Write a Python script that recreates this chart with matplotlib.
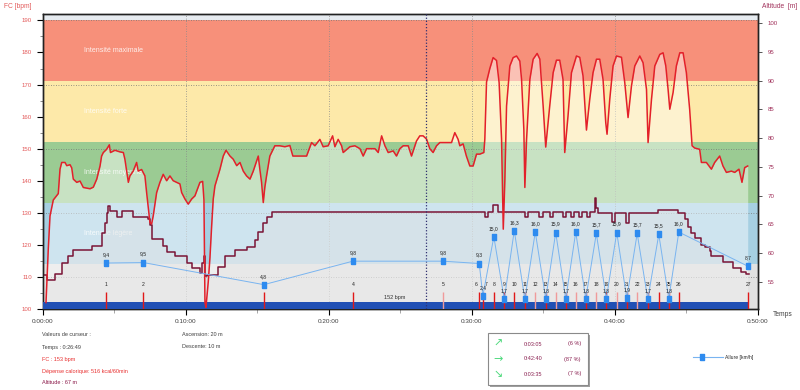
import matplotlib.pyplot as plt
from matplotlib.lines import Line2D
from matplotlib.patches import Rectangle
from matplotlib.ticker import MultipleLocator, FuncFormatter

plt.rcParams['font.family'] = ['Liberation Sans', 'DejaVu Sans']

# heart rate trace: time [min], FC [bpm]
hr_t = [0.21, 0.37, 0.49, 0.72, 1.07, 1.19, 1.31, 1.54, 1.66, 1.89, 2.01, 2.12, 2.36, 2.59, 2.82,
        3.29, 3.52, 3.76, 3.99, 4.10, 4.22, 4.45, 4.64, 4.72, 5.03, 5.38, 5.62, 5.73, 5.97, 6.08,
        6.31, 6.55, 6.66, 6.90, 7.13, 7.25, 7.48, 7.60, 7.71, 7.95, 8.18, 8.41, 8.65, 8.88, 9.11,
        9.35, 9.58, 9.70, 9.93, 10.16, 10.40, 10.63, 10.98, 11.17, 11.26, 11.33, 11.40, 11.56, 11.68,
        11.80, 11.91, 12.03, 12.38, 12.61, 12.80, 13.08, 13.31, 13.55, 13.78, 14.01, 14.24, 14.48,
        14.71, 15.06, 15.17, 15.29, 15.41, 15.52, 15.64, 15.87, 16.22, 16.57, 16.92, 17.27, 17.48,
        17.97, 18.44, 18.79, 19.02, 19.37, 19.60, 19.95, 20.26, 20.42, 20.65, 20.89, 21.00, 21.47,
        21.82, 22.17, 22.40, 22.64, 23.22, 23.45, 23.69, 23.92, 24.15, 24.50, 24.73, 24.97, 25.20,
        25.55, 25.78, 26.13, 26.36, 26.59, 26.83, 27.06, 27.29, 27.53, 27.76, 28.23, 28.58, 28.81,
        29.04, 29.16, 29.39, 29.62, 29.86, 30.09, 30.33, 30.56, 30.84, 30.91, 31.03, 31.26, 31.49,
        31.73, 31.91, 32.08, 32.20, 32.31, 32.43, 32.66, 32.89, 33.13, 33.36, 33.48, 33.64, 33.71,
        33.83, 34.06, 34.29, 34.57, 34.76, 34.99, 35.17, 35.45, 35.69, 35.92, 36.15, 36.38, 36.50,
        36.73, 36.97, 37.32, 37.55, 37.78, 38.02, 38.25, 38.48, 38.72, 38.95, 39.18, 39.37, 39.46,
        39.65, 39.88, 40.12, 40.47, 40.70, 40.93, 41.17, 41.40, 41.75, 41.98, 42.22, 42.33, 42.57,
        42.80, 43.15, 43.38, 43.57, 43.73, 43.85, 44.08, 44.31, 44.55, 44.78, 45.01, 45.24, 45.41,
        45.59, 45.94, 46.06, 46.41, 46.76, 46.99, 47.34, 47.57, 47.81, 48.16, 48.39, 48.69, 48.90,
        49.09, 49.30]
hr_bpm = [102, 118.7, 129, 134, 136, 143.6, 145.7, 145.7, 144.7, 145, 144, 140.5, 139.5, 139.9, 137.9,
          137.5, 138, 140.5, 144.6, 147.7, 148.8, 149.8, 151.2, 148.8, 149.5, 149, 148.8, 146.7, 139.5, 141.5,
          143, 145.7, 143, 143.5, 141.5, 136.3, 127, 126.5, 129, 136.3, 139.5, 142, 140, 141.5, 140,
          139.5, 139, 136.3, 134.3, 132.7, 134.3, 135.3, 139.5, 139.8, 134, 102, 100.5, 108.4, 116,
          126, 134.3, 138.4, 143.6, 147.7, 149.5, 147.7, 146.7, 144.7, 145.7, 143, 141.5, 140.5,
          143, 147.7, 143.6, 139.5, 133.2, 138, 141.5, 147.7, 150.9, 150.9, 150.6, 151, 147.7,
          147.7, 147.7, 151.9, 150.9, 152.9, 150.6, 150.9, 154, 150.6, 152.9, 150.9, 148.8, 150.6,
          150.9, 150, 147.7, 150, 150, 148.8, 154, 150.9, 148.8, 149.3, 147.7, 150, 150.9,
          150.9, 147.7, 152.4, 154, 154, 153, 150, 148.8, 150.9, 151.9, 151.9, 151.9, 155,
          152.9, 150.9, 151.5, 147.7, 144.6, 144.6, 148.3, 148.3, 148.8, 153, 170.8, 175, 178.4,
          177.5, 170.6, 153, 124.9, 140, 163.3, 175.8, 178.4, 178.9, 177.3, 171.6, 156, 137.9,
          152.9, 171.6, 177.9, 179.7, 177.9, 163.3, 150.5, 163.3, 173.7, 177.6, 177.6, 171.6, 148.8,
          160.2, 173.7, 178.9, 178.5, 172.7, 155.8, 165.4, 173.7, 177.9, 177.9, 171.6, 158.1, 154.5,
          165.4, 175.8, 178.9, 178.5, 170.6, 159.7, 169.6, 175.8, 178.9, 176.8, 168.5, 151.9, 165.4,
          175.8, 179.4, 179.9, 175.8, 168.5, 162.3, 167.5, 175.8, 179.9, 179.9, 173.7, 162.3, 150.9,
          150.2, 149.8, 145.7, 145.7, 143.6, 145.7, 147.7, 144.6, 142.6, 143, 142.6, 143.6, 139.5,
          144.1, 144.6]

# altitude (step changes): time [min], altitude [m]
alt_t = [0.0, 0.26, 0.84, 1.31, 1.77, 2.12, 3.41, 4.10, 4.34, 4.45, 4.57, 4.69, 5.15, 5.50, 6.27,
         7.36, 7.48, 7.60, 8.41, 8.65, 9.23, 10.05, 10.40, 10.98, 11.14, 11.26, 11.36, 11.45, 12.26,
         12.73, 13.43, 14.24, 14.83, 15.06, 15.41, 15.64, 15.99, 30.91, 31.12, 31.47, 31.82, 33.71,
         33.92, 34.70, 35.00, 35.50, 35.70, 36.35, 36.60, 36.95, 37.15, 37.50, 37.70, 38.05, 38.25,
         38.62, 38.72, 38.85, 39.80, 40.00, 40.80, 41.00, 43.00, 44.40, 44.90, 45.13, 45.36, 45.59,
         46.06, 46.29, 46.64, 46.76, 47.57, 48.27, 48.86, 49.21, 49.37]
alt_m = [56.2, 55.3, 56.3, 58.2, 59.4, 60.5, 61.3, 63.4, 65.2, 66.9, 68.2, 67.3, 66.3, 67.3, 66.3,
         66.0, 64.9, 62.4, 61.2, 60.2, 59.4, 58.2, 57.3, 56.5, 58.2, 59.4, 56.0, 56.2, 57.6,
         59.4, 60.5, 61.1, 62.3, 63.7, 65.2, 66.3, 67.2, 66.3, 67.2, 68.4, 67.2, 66.3,
         67.2, 66.3, 67.2, 66.3, 67.2, 66.3, 67.2, 66.3, 67.2, 66.3, 67.2, 66.3, 67.2,
         69.5, 67.9, 67.0, 65.4, 67.0, 65.2, 67.0, 67.4, 67.0, 66.0, 64.6, 63.4, 62.6,
         61.4, 61.1, 60.4, 59.5, 58.5, 57.3, 56.7, 56.3, 56.3]

# laps
lap_num = list(range(1, 28))
lap_t = [4.41, 7.03, 15.45, 21.68, 27.97, 30.52, 30.77, 31.54, 32.27, 32.97, 33.71, 34.44, 35.17,
         35.87, 36.57, 37.27, 37.97, 38.71, 39.41, 40.14, 40.84, 41.57, 42.31, 43.08, 43.78, 44.48, 49.33]
lap_speed = [9.4, 9.5, 4.8, 9.8, 9.8, 9.3, 2.4, 15.0, 1.7, 16.3, 1.7, 16.0, 1.8, 15.9, 1.7, 16.0,
             1.8, 15.7, 1.8, 15.9, 1.9, 15.7, 1.7, 15.5, 1.8, 16.0, 8.7]
lap_pink = [5, 12, 14, 16, 18, 20, 22]

# heart-rate zones
zone_lo = [100, 114, 133, 152, 171]
zone_hi = [114, 133, 152, 171, 190]
zone_names = ['', 'Intensité légère', 'Intensité moyenne', 'Intensité forte', 'Intensité maximale']
zone_colors = ['#e1e1e1', '#a6cfe2', '#9bcb93', '#fde9a9', '#f7907a']

cursor_t = 26.82
end_t = hr_t[-1]

W, H = 800, 390
fig = plt.figure(figsize=(W / 100, H / 100), dpi=100)
ax = fig.add_axes([43 / W, 1 - 309 / H, (757.7 - 43) / W, (309 - 14) / H])

# zones
for lo, hi, c, name in zip(zone_lo, zone_hi, zone_colors, zone_names):
    ax.axhspan(lo, hi, color=c, lw=0, zorder=0)
    if name:
        ax.text(2.9, (lo + hi) / 2, name, color='white', fontsize=5, va='center', ha='left',
                alpha=0.85, zorder=1)
ax.axhspan(190, 192, color='#e6ebf0', lw=0, zorder=0)

for t in [10, 20, 30, 40]:
    ax.axvline(t, color='#8a8a8a', ls=(0, (1, 2)), lw=0.6, zorder=1)
for v in [110, 130, 150, 170, 190]:
    ax.axhline(v, color='#777777', ls=(0, (1, 2)), lw=0.6, zorder=1)

ax.fill_between(hr_t, hr_bpm, 100, color='white', alpha=0.45, lw=0, zorder=2)

ax.set_xlim(0, 50)
ax.set_ylim(100, 192)
ax.xaxis.set_major_locator(MultipleLocator(10))
ax.xaxis.set_minor_locator(MultipleLocator(5))
ax.xaxis.set_major_formatter(FuncFormatter(lambda m, p: f"0:{int(m):02d}:00"))
ax.yaxis.set_major_locator(MultipleLocator(10))
ax.yaxis.set_minor_locator(MultipleLocator(5))
ax.tick_params(axis='x', which='major', length=4, width=0.8, pad=3, labelsize=4.6, labelcolor='#404040')
ax.tick_params(axis='x', which='minor', length=3, width=0.6, color='#999999')
ax.tick_params(axis='y', which='major', length=4, width=0.8, pad=4, labelsize=4.4, labelcolor='#e35a5a')
ax.tick_params(axis='y', which='minor', length=2.5, width=0.6, color='#777777')
for s in ax.spines.values():
    s.set_linewidth(1.0)
    s.set_color('#222222')

# altitude
ax2 = ax.twinx()
ax2.fill_between(alt_t, alt_m, 40, step='post', color='#e0e0e0', alpha=0.4, lw=0)
ax2.plot(alt_t, alt_m, drawstyle='steps-post', color='#7a1436', lw=1.1)
ax2.set_ylim(50.25, 101.6)
ax2.set_yticks([55, 60, 65, 70, 75, 80, 85, 90, 95, 100])
ax2.tick_params(axis='y', length=3, width=0.7, pad=4, labelsize=4.4, labelcolor='#a0305a', color='#555555')
for s in ax2.spines.values():
    s.set_linewidth(1.0)
    s.set_color('#222222')

# heart rate, laps, bar (same scale as ax)
ax4 = ax.twinx()
ax4.set_ylim(ax.get_ylim())
ax4.axis('off')
lap_nudge = {6: -2.5, 7: 2.5}
for n, t in zip(lap_num, lap_t):
    col = '#f09a9a' if n in lap_pink else '#e01818'
    ax4.vlines(t, 100, 105.3, color=col, lw=1.0)
    ax4.annotate(str(n), (t, 107.7), xytext=(lap_nudge.get(n, 0), 0), textcoords='offset points',
                 ha='center', va='center', fontsize=3.6, color='#222222')
ax4.fill_between([0, end_t], 100, 102.1, color='#2150b5', lw=0)
ax4.text(24.6, 103.5, '152 bpm', ha='center', va='center', fontsize=4, color='#333333')
ax4.plot(hr_t, hr_bpm, color='#e3202a', lw=1.1)
ax4.axvline(cursor_t, color='#303070', ls=(0, (1, 1.5)), lw=0.9)

# speed per lap
ax3 = ax.twinx()
ax3.set_ylim(-0.38, 62.4)
ax3.axis('off')
box_marker = [(-0.5, -1), (0.5, -1), (0.5, 1), (-0.5, 1), (-0.5, -1)]
ax3.plot(lap_t, lap_speed, color='#79b4f0', lw=0.7, marker=box_marker, ms=5,
         mfc='#2e8bef', mec='#2e8bef')
for t, v in zip(lap_t, lap_speed):
    ax3.annotate(f"{v:.1f}".replace('.', ','), (t, v), xytext=(0, 6), textcoords='offset points',
                 ha='center', va='center', fontsize=3.6, color='#222222')

# axis titles
fig.text(4 / W, 1 - 7 / H, 'FC [bpm]', fontsize=4.8, color='#e35a5a', va='center')
fig.text(762 / W, 1 - 7 / H, 'Altitude  [m]', fontsize=4.8, color='#a0305a', va='center')
fig.text(773 / W, 1 - 315 / H, 'Temps', fontsize=4.8, color='#404040', va='center')

# cursor values
info = [('Valeurs de curseur :', '#404040'), ('Temps : 0:26:49', '#404040'), ('FC : 153 bpm', '#e83030'),
        ('Dépense calorique: 516 kcal/60min', '#e83030'), ('Altitude : 67 m', '#8b1a4a')]
for i, (s, c) in enumerate(info):
    fig.text(42 / W, 1 - (335 + i * 12) / H, s, fontsize=4, color=c, va='center')
fig.text(182 / W, 1 - 335 / H, 'Ascension: 20 m', fontsize=4, color='#404040', va='center')
fig.text(182 / W, 1 - 347 / H, 'Descente: 10 m', fontsize=4, color='#404040', va='center')

# slope summary box
fig.add_artist(Rectangle((490 / W, 1 - 387 / H), 100 / W, 52 / H, transform=fig.transFigure,
                         facecolor='#a0a0a0', edgecolor='none'))
fig.add_artist(Rectangle((488 / W, 1 - 385 / H), 100 / W, 52 / H, transform=fig.transFigure,
                         facecolor='white', edgecolor='#8a8a8a', lw=0.8))
rows = [('↗', '0:03:05', '(6 %)'), ('→', '0:42:40', '(87 %)'), ('↘', '0:03:35', '(7 %)')]
for i, (a, tm, pc) in enumerate(rows):
    y = 1 - (344 + i * 15) / H
    fig.text(498 / W, y, a, fontsize=8, color='#4cd97b', ha='center', va='center', family='DejaVu Sans')
    fig.text(533 / W, y, tm, fontsize=4, color='#8b2252', ha='center', va='center')
    fig.text(581 / W, y, pc, fontsize=4, color='#8b2252', ha='right', va='center')

# legend
fig.add_artist(Line2D([693 / W, 723 / W], [1 - 357 / H] * 2, transform=fig.transFigure,
                      color='#79b4f0', lw=0.8))
fig.add_artist(Line2D([702 / W], [1 - 357 / H], transform=fig.transFigure, marker=box_marker,
                      ms=5, mfc='#2e8bef', mec='#2e8bef', lw=0))
fig.text(725 / W, 1 - 357 / H, 'Allure [km/h]', fontsize=3.6, color='#222222', va='center')

fig.savefig('out.png', dpi=100, facecolor='white')
